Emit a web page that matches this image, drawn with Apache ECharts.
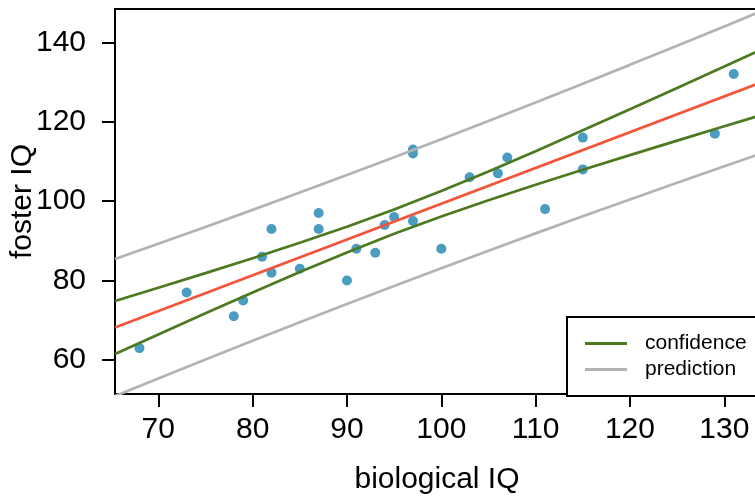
<!DOCTYPE html>
<html>
<head>
<meta charset="utf-8">
<script src="https://cdn.jsdelivr.net/npm/echarts@6/dist/echarts.min.js"></script>
<style>
html,body{margin:0;padding:0;background:#fff;}
#chart{width:755px;height:498px;}
</style>
</head>
<body>
<div id="chart"></div>
<script>
// Observed data (biological vs foster twin IQ)
var bioIQ    = [68,73,78,79,81,82,82,85,87,87,90,91,93,94,95,97,97,97,100,103,106,107,111,115,115,129,131];
var fosterIQ = [63,77,71,75,86,82,93,83,93,97,80,88,87,94,96,95,112,113,88,106,107,111,98,116,108,117,132];

// Fitted line end points
var fitX = [65.41, 133.68];
var fitY = [68.17, 129.71];

// Band x positions and band values
var bandX     = [65.41, 70, 75, 80, 85, 90, 95, 100, 105, 110, 115, 120, 125, 130, 133.68];
var confUpper = [74.84, 78.19, 81.87, 85.63, 89.51, 93.57, 97.90, 102.55, 107.47, 112.59, 117.84, 123.16, 128.52, 133.93, 137.92];
var confLower = [61.50, 66.43, 71.75, 77.01, 82.15, 87.09, 91.78, 96.15, 100.23, 104.13, 107.90, 111.60, 115.24, 118.85, 121.50];
var predUpper = [85.43, 89.28, 93.51, 97.81, 102.17, 106.58, 111.05, 115.59, 120.18, 124.83, 129.55, 134.32, 139.13, 144.00, 147.62];
var predLower = [50.91, 55.34, 60.11, 64.83, 69.49, 74.08, 78.63, 83.11, 87.52, 91.89, 96.19, 100.44, 104.63, 108.78, 111.80];

var xTicks = [70, 80, 90, 100, 110, 120, 130];
var yTicks = [60, 80, 100, 120, 140];

function zip(a, b) { return a.map(function (v, i) { return [v, b[i]]; }); }

var FONT = '"Liberation Sans", Arial, sans-serif';
var chart = echarts.init(document.getElementById('chart'), null, {renderer: 'canvas'});
var option = {
  animation: false,
  backgroundColor: '#ffffff',
  grid: {
    left: 115, top: 9, right: -4, bottom: 104,
    containLabel: false, outerBoundsMode: 'none',
    show: true, borderColor: '#000', borderWidth: 2, backgroundColor: 'transparent'
  },
  xAxis: {
    type: 'value', min: 65.41, max: 133.68,
    name: 'biological IQ', nameLocation: 'middle', nameGap: 71, nameMoveOverlap: false,
    nameTextStyle: {fontSize: 30, color: '#000', fontFamily: FONT},
    axisLine: {show: false},
    axisTick: {show: true, length: 13, customValues: xTicks, lineStyle: {color: '#000', width: 2}},
    axisLabel: {customValues: xTicks, fontSize: 30, color: '#000', fontFamily: FONT, margin: 21},
    splitLine: {show: false}
  },
  yAxis: {
    type: 'value', min: 51.44, max: 148.39,
    name: 'foster IQ', nameLocation: 'middle', nameGap: 77, nameRotate: 90, nameMoveOverlap: false,
    nameTextStyle: {fontSize: 30, color: '#000', fontFamily: FONT},
    axisLine: {show: false},
    axisTick: {show: true, length: 13, customValues: yTicks, lineStyle: {color: '#000', width: 2}},
    axisLabel: {customValues: yTicks, fontSize: 30, color: '#000', fontFamily: FONT, margin: 29},
    splitLine: {show: false}
  },
  legend: {
    data: [
      {name: 'confidence', icon: 'rect', itemStyle: {color: '#4C7A20'}},
      {name: 'prediction', icon: 'rect', itemStyle: {color: '#B3B3B3'}}
    ],
    orient: 'vertical',
    left: 567, top: 317,
    itemWidth: 42, itemHeight: 3, itemGap: 5,
    padding: [16, 40, 16, 18],
    backgroundColor: '#fff',
    borderColor: '#000', borderWidth: 2, borderRadius: 0,
    textStyle: {fontSize: 21, color: '#000', fontFamily: FONT, padding: [0, 0, 0, 13]},
    selectedMode: false
  },
  series: [
    {name: 'prediction', type: 'line', data: zip(bandX, predUpper), showSymbol: false,
     lineStyle: {color: '#B3B3B3', width: 2.7}, itemStyle: {color: '#B3B3B3'}, silent: true},
    {name: 'prediction', type: 'line', data: zip(bandX, predLower), showSymbol: false,
     lineStyle: {color: '#B3B3B3', width: 2.7}, itemStyle: {color: '#B3B3B3'}, silent: true},
    {name: 'confidence', type: 'line', data: zip(bandX, confUpper), showSymbol: false,
     lineStyle: {color: '#4C7A20', width: 2.7}, itemStyle: {color: '#4C7A20'}, silent: true},
    {name: 'confidence', type: 'line', data: zip(bandX, confLower), showSymbol: false,
     lineStyle: {color: '#4C7A20', width: 2.7}, itemStyle: {color: '#4C7A20'}, silent: true},
    {name: 'fit', type: 'line', data: zip(fitX, fitY), showSymbol: false,
     lineStyle: {color: '#F4553A', width: 2.7}, silent: true},
    {name: 'data', type: 'scatter', data: zip(bioIQ, fosterIQ), symbolSize: 10,
     itemStyle: {color: '#4A9CC1', opacity: 1}, silent: true}
  ]
};
chart.setOption(option);
</script>
</body>
</html>
